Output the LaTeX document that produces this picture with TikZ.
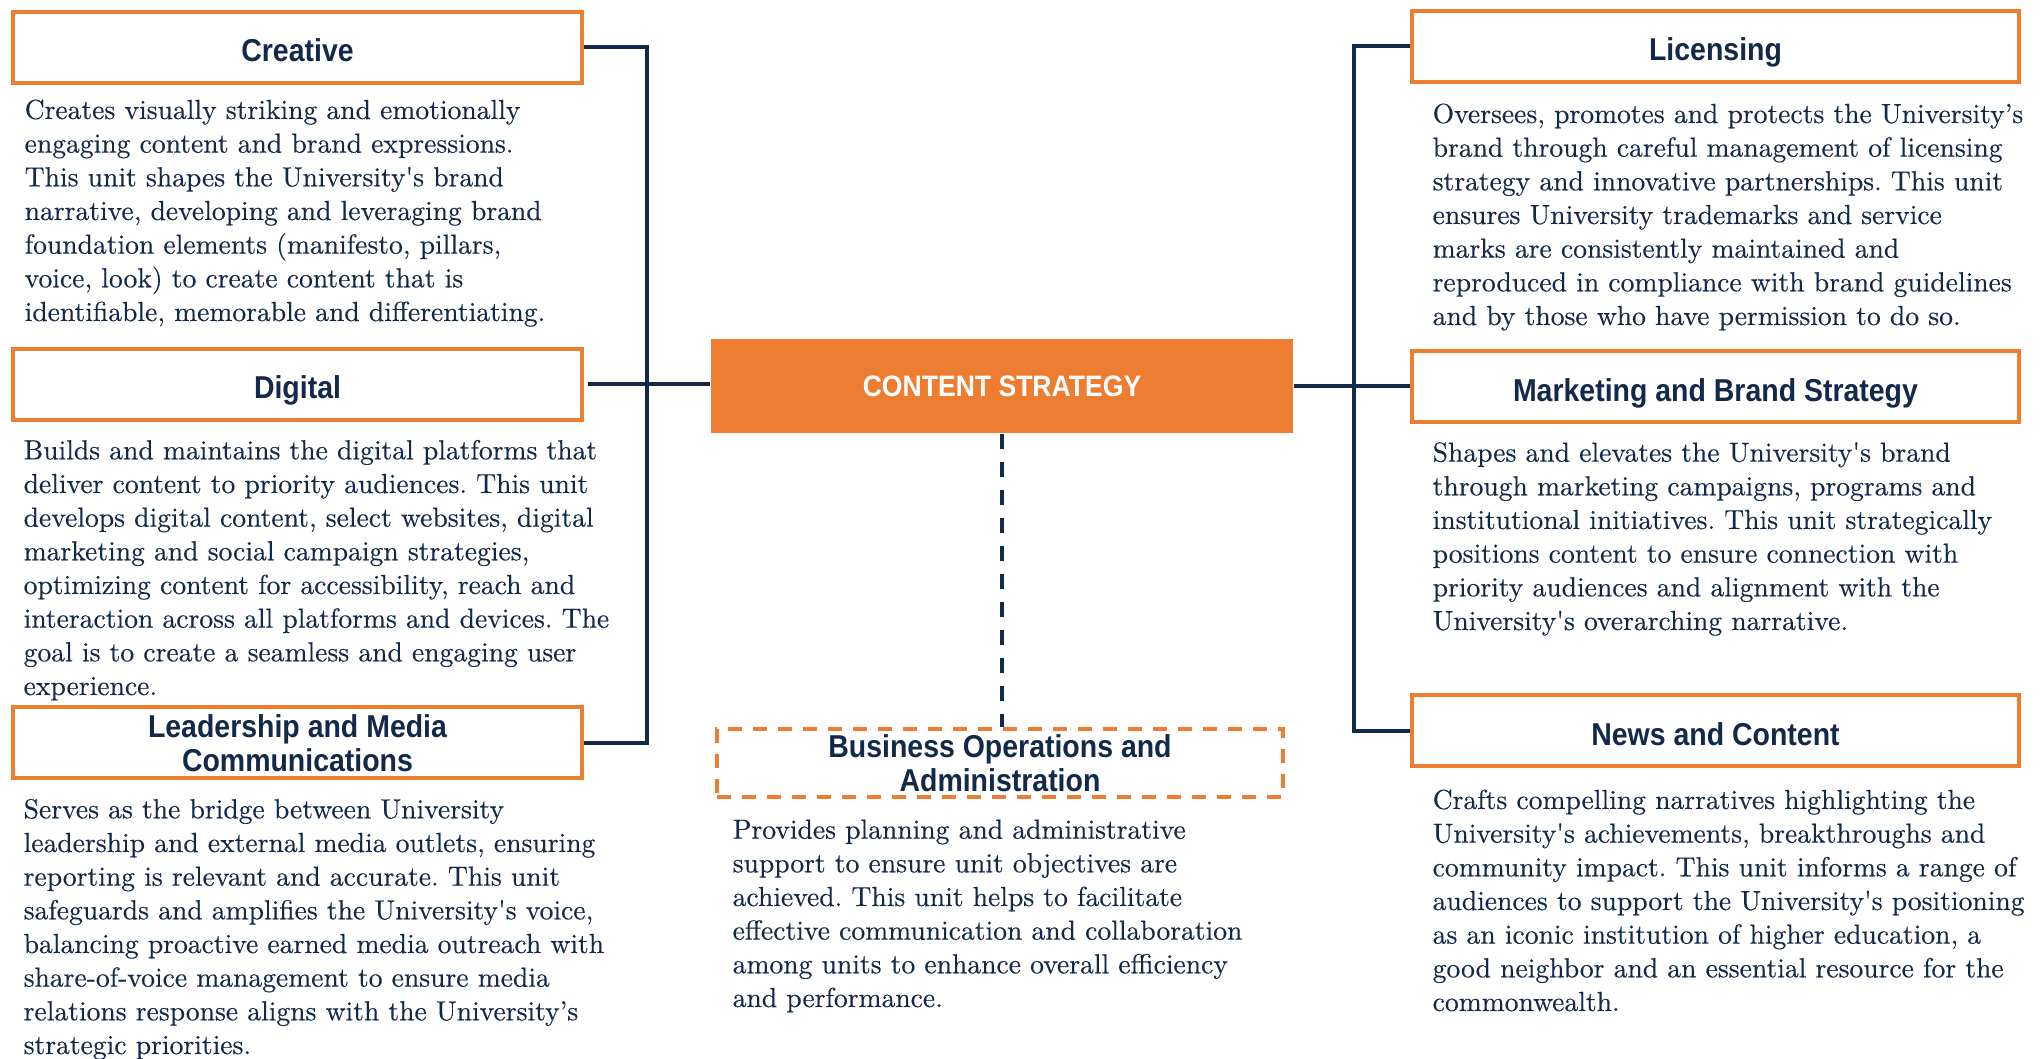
\documentclass[tikz,border=0pt]{standalone}
\usepackage{fontspec}
\newfontfamily\headfont{Liberation Sans}[FakeStretch=0.9]
\newfontfamily\bodyfont{lmroman10-regular}[Extension=.otf,FakeBold=0.3]
\usepackage{tikz}
\definecolor{navy}{HTML}{12294A}
\definecolor{brandorange}{HTML}{ED7D31}
\newcommand\sq{\textquotesingle}
\tikzstyle{unit}=[draw=brandorange,line width=0.4mm,minimum width=56.9mm,minimum height=7.1mm,inner sep=0pt,align=center,text=navy,text height=8.2pt,text depth=0pt,font=\headfont\bfseries\fontsize{9}{9.9}\selectfont]
\tikzstyle{twoline}=[text height=,text depth=-5pt]
\tikzstyle{runit}=[unit,minimum width=60.7mm]
\tikzstyle{optional}=[unit,twoline,dash pattern=on 1.4mm off 1.1mm,minimum width=56.6mm,minimum height=6.8mm]
\tikzstyle{core}=[fill=brandorange,minimum width=58.2mm,minimum height=9.4mm,text=white,font=\headfont\bfseries\fontsize{8.4}{10}\selectfont]
% anchored on the baseline of the last line
\tikzstyle{desc}=[anchor=base west,inner sep=0pt,align=left,text=navy,font=\bodyfont\frenchspacing\fontsize{7.85}{9.58}\selectfont]
\tikzstyle{link}=[draw=navy,line width=0.4mm]

\begin{document}
\begin{tikzpicture}[x=0.1mm,y=-0.1mm]
  \useasboundingbox (0,0) rectangle (2044,1059);
  \node[core] (core) at (1002,386) {CONTENT STRATEGY};
  \node[unit] (creative) at (297.5,47.5) {Creative};
  \node[unit] (digital) at (297.5,384.5) {Digital};
  \node[unit,twoline] (leader) at (297.5,743) {Leadership and Media\\Communications};
  \node[optional] (business) at (1000,763) {Business Operations and\\Administration};
  \node[runit] (licensing) at (1715.5,46.5) {Licensing};
  \node[runit] (marketing) at (1715.5,387) {Marketing and Brand Strategy};
  \node[runit] (news) at (1715.5,731) {News and Content};

  \coordinate (lbus) at (646.5,400);
  \coordinate (rbus) at (1353.5,400);
  \draw[link] (creative.east) -| (lbus) |- (leader.east);
  \draw[link,shorten <=0.4mm] (digital.east) -- (digital.east -| core.west);
  \draw[link] (licensing.west) -| (rbus) |- (news.west);
  \draw[link] (core.east) -- (core.east -| marketing.west);
  \draw[link,dash pattern=on 1.5mm off 1.3mm] (core.south) -- (core.south |- business.north);

  \node[desc] (creativetxt) at (24,321) {Creates visually striking and emotionally\\
    engaging content and brand expressions.\\
    This unit shapes the University\sq s brand\\
    narrative, developing and leveraging brand\\
    foundation elements (manifesto, pillars,\\
    voice, look) to create content that is\\
    identifiable, memorable and differentiating.};
  \node[desc] (digitaltxt) at (23,695) {Builds and maintains the digital platforms that\\
    deliver content to priority audiences. This unit\\
    develops digital content, select websites, digital\\
    marketing and social campaign strategies,\\
    optimizing content for accessibility, reach and\\
    interaction across all platforms and devices. The\\
    goal is to create a seamless and engaging user\\
    experience.};
  \node[desc] (leadertxt) at (23,1054) {Serves as the bridge between University\\
    leadership and external media outlets, ensuring\\
    reporting is relevant and accurate. This unit\\
    safeguards and amplifies the University\sq s voice,\\
    balancing proactive earned media outreach with\\
    share-of-voice management to ensure media\\
    relations response aligns with the University’s\\
    strategic priorities.};
  \node[desc] (businesstxt) at (732,1007) {Provides planning and administrative\\
    support to ensure unit objectives are\\
    achieved. This unit helps to facilitate\\
    effective communication and collaboration\\
    among units to enhance overall efficiency\\
    and performance.};
  \node[desc] (licensingtxt) at (1432,325) {Oversees, promotes and protects the University’s\\
    brand through careful management of licensing\\
    strategy and innovative partnerships. This unit\\
    ensures University trademarks and service\\
    marks are consistently maintained and\\
    reproduced in compliance with brand guidelines\\
    and by those who have permission to do so.};
  \node[desc] (marketingtxt) at (1432,630) {Shapes and elevates the University\sq s brand\\
    through marketing campaigns, programs and\\
    institutional initiatives. This unit strategically\\
    positions content to ensure connection with\\
    priority audiences and alignment with the\\
    University\sq s overarching narrative.};
  \node[desc] (newstxt) at (1432,1011) {Crafts compelling narratives highlighting the\\
    University\sq s achievements, breakthroughs and\\
    community impact. This unit informs a range of\\
    audiences to support the University\sq s positioning\\
    as an iconic institution of higher education, a\\
    good neighbor and an essential resource for the\\
    commonwealth.};
\end{tikzpicture}
\end{document}
